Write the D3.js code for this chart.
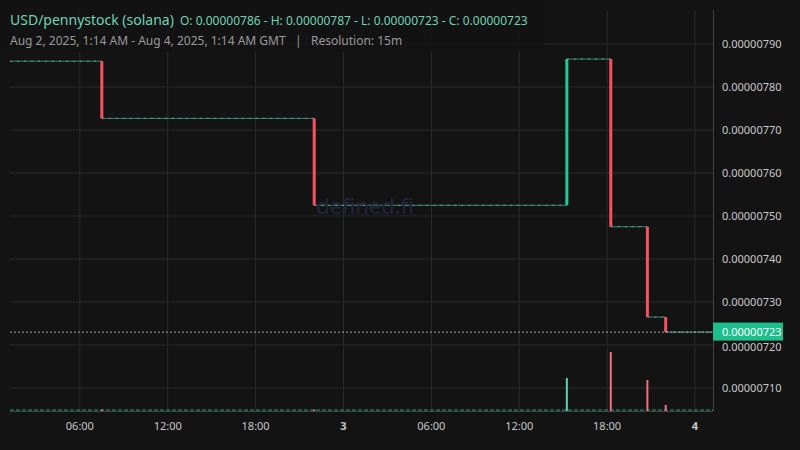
<!DOCTYPE html>
<html><head><meta charset="utf-8">
<script src="https://cdn.jsdelivr.net/npm/d3@7"></script>
<style>body{margin:0;background:#131313;}svg{display:block;font-family:"Noto Sans",sans-serif;}</style>
</head><body><svg id="c" width="800" height="450"></svg>
<script>
// price moves, hours from Aug 2 00:00 GMT, prices in 1e-8
const moveHours = [7.5, 22, 39.25, 42.25, 44.75, 46];
const moveOpens = [786, 772.7, 752.5, 786.5, 747.5, 726.5];
const moveClose = [772.7, 752.5, 786.5, 747.5, 726.5, 723];
const moveVolume = [1.5, 1.5, 33, 59, 31, 6];
const startHour = 1.23, endHour = 49.23, openPrice = 786, lastPrice = 723;
const yTicks = [790, 780, 770, 760, 750, 740, 730, 720, 710];
const xTicks = [[6, "06:00"], [12, "12:00"], [18, "18:00"], [24, "3"], [30, "06:00"], [36, "12:00"], [42, "18:00"], [48, "4"]];

const RED = "#f7525f", GREEN = "#22c79b";
const svg = d3.select("#c");
const L = 10, R = 713, T = 10, B = 411;
const x = d3.scaleLinear().domain([startHour, endHour]).range([L, R]);
const y = d3.scaleLinear().domain([710, 790]).range([388, 44]);
const vy = d3.scaleLinear().domain([0, 59]).range([B, 352]);

svg.append("rect").attr("width", 800).attr("height", 450).attr("fill", "#131313");
const g = svg.append("g");
g.selectAll(".hg").data(yTicks).join("line").attr("x1", L).attr("x2", R)
  .attr("y1", d => y(d)).attr("y2", d => y(d)).attr("stroke", "#2b2b2b");
g.selectAll(".vg").data(xTicks).join("line").attr("y1", T).attr("y2", B)
  .attr("x1", d => x(d[0])).attr("x2", d => x(d[0])).attr("stroke", "#2b2b2b");
g.append("line").attr("x1", R + 0.5).attr("x2", R + 0.5).attr("y1", T).attr("y2", B).attr("stroke", "#444");
g.append("line").attr("x1", L).attr("x2", R).attr("y1", B + 0.5).attr("y2", B + 0.5).attr("stroke", "#444");

svg.append("text").attr("x", 365).attr("y", 214).attr("text-anchor", "middle")
  .attr("font-size", 22).attr("fill", "#24243c").text("defined.fi");

// flat segments (doji candles): light dashes over teal
const segStart = [startHour].concat(moveHours);
const segEnd = moveHours.concat([endHour]);
const segPrice = [openPrice].concat(moveClose);
segStart.forEach((s, i) => {
  g.append("line").attr("x1", x(s)).attr("x2", x(segEnd[i]))
    .attr("y1", y(segPrice[i])).attr("y2", y(segPrice[i]))
    .attr("stroke", "#3fbf9c").attr("opacity", 0.7);
  g.append("line").attr("x1", x(s)).attr("x2", x(segEnd[i]))
    .attr("y1", y(segPrice[i])).attr("y2", y(segPrice[i]))
    .attr("stroke", "#bbb").attr("stroke-dasharray", "2,5").attr("opacity", 0.6);
});
// base volume
g.append("line").attr("x1", L).attr("x2", R).attr("y1", B - 1).attr("y2", B - 1)
  .attr("stroke", GREEN).attr("stroke-dasharray", "4,2").attr("opacity", 0.8);

moveHours.forEach((h, i) => {
  const up = moveClose[i] > moveOpens[i];
  const col = up ? GREEN : RED;
  g.append("rect").attr("x", x(h) - 1.5).attr("width", 3)
    .attr("y", y(Math.max(moveOpens[i], moveClose[i])))
    .attr("height", Math.abs(y(moveOpens[i]) - y(moveClose[i])))
    .attr("fill", col);
  g.append("rect").attr("x", x(h) - 1).attr("width", 2)
    .attr("y", vy(moveVolume[i])).attr("height", B - vy(moveVolume[i]))
    .attr("fill", up ? "#5fd3b0" : "#f0707e");
});

// last price line
g.append("line").attr("x1", L).attr("x2", R).attr("y1", y(lastPrice)).attr("y2", y(lastPrice))
  .attr("stroke", "#aaa").attr("stroke-dasharray", "2,2");

svg.selectAll(".yl").data(yTicks).join("text").attr("x", 722).attr("y", d => y(d) + (d === 720 ? 6 : 4))
  .attr("font-size", 11).attr("fill", "#c8c8c8").text(d => (d / 1e8).toFixed(8));
svg.append("rect").attr("x", 713).attr("y", y(lastPrice) - 9.5).attr("width", 70).attr("height", 18).attr("fill", "#1dbf8c");
svg.append("text").attr("x", 722).attr("y", y(lastPrice) + 4).attr("font-size", 11).attr("fill", "#fff")
  .text((lastPrice / 1e8).toFixed(8));

svg.selectAll(".xl").data(xTicks).join("text").attr("x", d => x(d[0])).attr("y", 430)
  .attr("text-anchor", "middle").attr("font-size", 11)
  .attr("font-weight", d => d[1].length === 1 ? "bold" : "normal")
  .attr("fill", "#c8c8c8").text(d => d[1]);

svg.append("rect").attr("x", 0).attr("y", 0).attr("width", 545).attr("height", 52).attr("fill", "#131313").attr("opacity", 0.8);
const h1 = svg.append("text").attr("x", 10).attr("y", 25).attr("fill", "#6fd3b4");
h1.append("tspan").attr("font-size", 14).text("USD/pennystock (solana)");
h1.append("tspan").attr("font-size", 12).attr("dx", 6).text("O: 0.00000786 - H: 0.00000787 - L: 0.00000723 - C: 0.00000723");
svg.append("text").attr("x", 10).attr("y", 45).attr("font-size", 12).attr("fill", "#9a9a9a")
  .attr("xml:space", "preserve").text("Aug 2, 2025, 1:14 AM - Aug 4, 2025, 1:14 AM GMT   |   Resolution: 15m");
</script></body></html>
